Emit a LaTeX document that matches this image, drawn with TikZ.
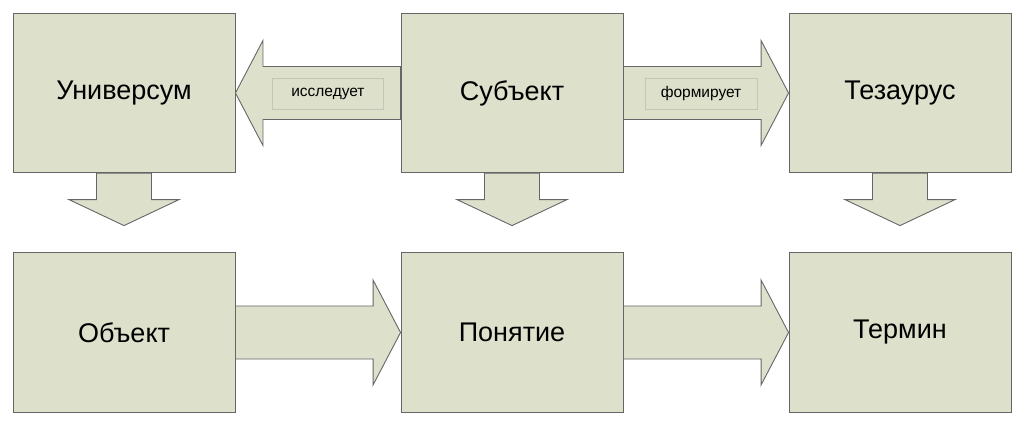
\documentclass[tikz,border=0pt]{standalone}
\usepackage{fontspec}
\setmainfont{Liberation Sans}
\usetikzlibrary{calc}

\definecolor{boxfill}{HTML}{DDE0CB}
\definecolor{boxline}{HTML}{666666}
\definecolor{tagline}{HTML}{C4C7B8}

\tikzset{
    box/.style={draw=boxline, line width=0.9pt, fill=boxfill,
        minimum width=222pt, minimum height=159.5pt, inner sep=0pt,
        font=\fontsize{27}{32}\selectfont},
    tag/.style={draw=tagline, line width=0.8pt, fill=boxfill,
        minimum width=111pt, minimum height=31pt, inner sep=0pt,
        font=\fontsize{15.5}{18}\selectfont},
    blockarrow/.style={draw=boxline, line width=0.9pt, fill=boxfill, line join=miter}
}

\begin{document}
\begin{tikzpicture}[x=1pt, y=-1pt]
    \useasboundingbox (0, 0) rectangle (1024, 422);
    \def \shaft {26.5}
    \def \head {52.5}
    \def \headlen {27.5}

    % upper row
    \node[box] (uni) at (124, 93) {Универсум};
    \node[box] (sub) at (512, 93) {Субъект};
    \node[box] (tez) at (900, 93) {Тезаурус};
    % lower row
    \node[box] (obj) at (124, 332.5) {Объект};
    \node[box] (pon) at (512, 332.5) {Понятие};
    \node[box] (ter) at (900, 332.5) {Термин};

    % horizontal block arrows
    \foreach \from/\to/\ta/\tb/\s in {sub/uni/180/0/-1, sub/tez/0/180/1, obj/pon/0/180/1, pon/ter/0/180/1} {
        \draw[blockarrow] (\from.\ta) ++(0, -\shaft) -- ($(\to.\tb) + (-\s*\headlen, -\shaft)$)
            -- ($(\to.\tb) + (-\s*\headlen, -\head)$) -- (\to.\tb)
            -- ($(\to.\tb) + (-\s*\headlen, \head)$) -- ($(\to.\tb) + (-\s*\headlen, \shaft)$)
            -- ($(\from.\ta) + (0, \shaft)$) -- cycle;
    }

    % vertical block arrows
    \foreach \from/\to in {uni/obj, sub/pon, tez/ter} {
        \coordinate (\from-tip) at ($(\from.south)!0.6625!(\to.north)$);
        \draw[blockarrow] ($(\from.south) + (-27.5, 0)$) -- ($(\from-tip) + (-27.5, -26)$)
            -- ($(\from-tip) + (-55, -26)$) -- (\from-tip) -- ($(\from-tip) + (55, -26)$)
            -- ($(\from-tip) + (27.5, -26)$) -- ($(\from.south) + (27.5, 0)$) -- cycle;
    }

    % arrow captions
    \node[tag] (explores) at ($(uni.east)!0.56!(sub.west) + (0, 0.5)$) {исследует};
    \node[tag, minimum width=112pt] (forms) at ($(sub.east)!0.47!(tez.west) + (0, 0.5)$) {формирует};
\end{tikzpicture}
\end{document}
